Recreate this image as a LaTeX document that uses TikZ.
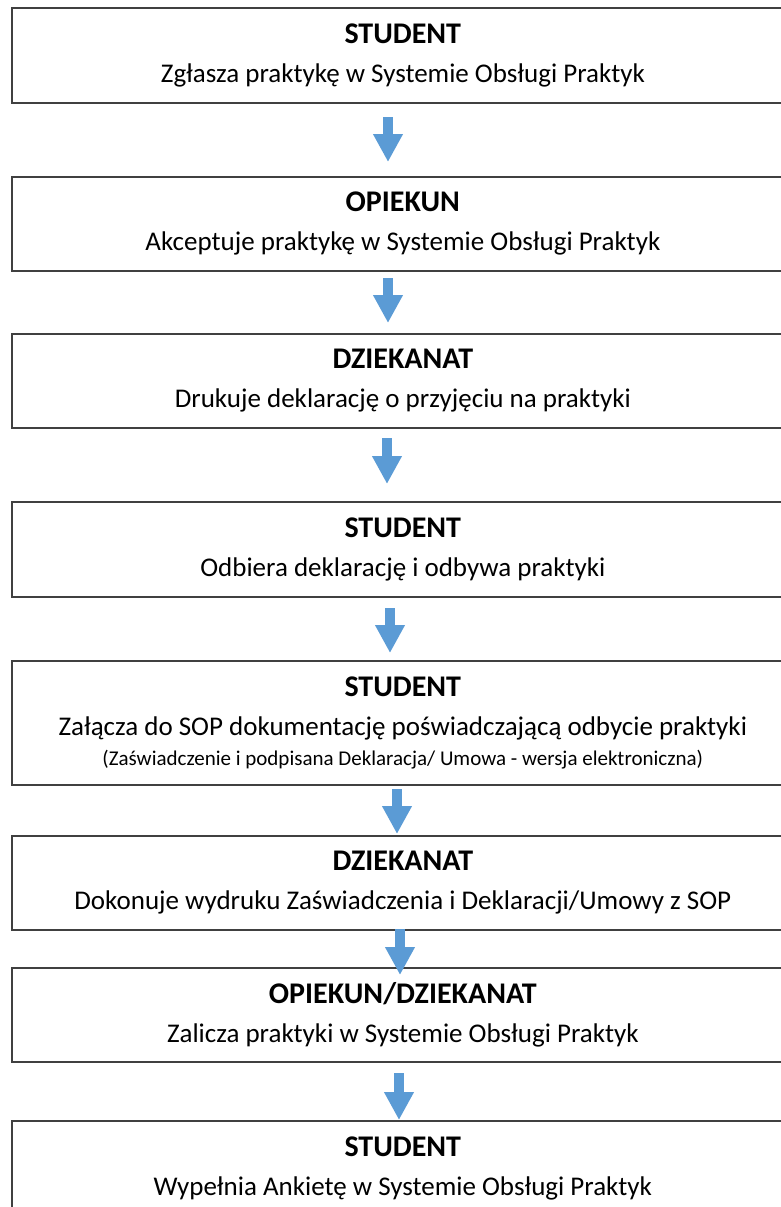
\documentclass[tikz,border=0pt]{standalone}
\usepackage{fontspec}
\setmainfont{Carlito}
\usetikzlibrary{arrows.meta}
\definecolor{flowblue}{RGB}{91,155,213}
\newcommand{\rolename}[1]{{\bfseries\fontsize{30}{39}\selectfont #1}}
\begin{document}
\begin{tikzpicture}[x=1pt,y=-1pt,
	stepbox/.style={draw=black!75, line width=1.6pt, anchor=north west, minimum width=782pt, align=center, inner sep=0pt, font=\fontsize{27}{39}\selectfont},
	flow/.style={draw=flowblue, line width=10pt, -{Triangle[width=28pt,length=28pt]}}]
	\clip (0,0) rectangle (781,1207);
	\node[stepbox, minimum height=95pt] (S1) at (11,7) {\rolename{STUDENT}\\Zgłasza praktykę w Systemie Obsługi Praktyk};
	\node[stepbox, minimum height=94pt] (S2) at (11,176) {\rolename{OPIEKUN}\\Akceptuje praktykę w Systemie Obsługi Praktyk};
	\node[stepbox, minimum height=94pt] (S3) at (11,333) {\rolename{DZIEKANAT}\\Drukuje deklarację o przyjęciu na praktyki};
	\node[stepbox, minimum height=95pt] (S4) at (11,501) {\rolename{STUDENT}\\Odbiera deklarację i odbywa praktyki};
	\node[stepbox, minimum height=124pt] (S5) at (11,660) {\rolename{STUDENT}\\Załącza do SOP dokumentację poświadczającą odbycie praktyki\\[-9pt]{\fontsize{21}{24}\selectfont (Zaświadczenie i podpisana Deklaracja/ Umowa - wersja elektroniczna)}};
	\node[stepbox, minimum height=94pt] (S6) at (11,835) {\rolename{DZIEKANAT}\\Dokonuje wydruku Zaświadczenia i Deklaracji/Umowy z SOP};
	\node[stepbox, minimum height=94pt] (S7) at (11,967) {\rolename{OPIEKUN/DZIEKANAT}\\Zalicza praktyki w Systemie Obsługi Praktyk};
	\node[stepbox, minimum height=95pt] (S8) at (11,1120) {\rolename{STUDENT}\\Wypełnia Ankietę w Systemie Obsługi Praktyk};
	% block arrows between the steps
	\foreach \i/\x/\ya/\yb in {1/388/117/162, 2/388/278/323, 3/387/438/484, 4/390/608/653, 5/397/789/834, 6/400/929/975, 7/399/1073/1120}{
		\coordinate (a\i) at (\x,\ya);
		\coordinate (b\i) at (\x,\yb);
		\draw[flow] (a\i) -- (b\i);
	}
\end{tikzpicture}
\end{document}
